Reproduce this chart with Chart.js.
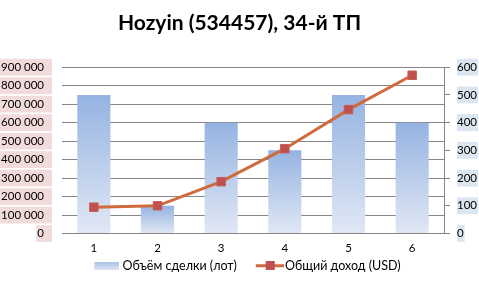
<!DOCTYPE html>
<html>
<head>
<meta charset="utf-8">
<script src="https://cdn.jsdelivr.net/npm/chart.js@4"></script>
<style>
body { margin: 0; background: #fff; }
</style>
</head>
<body>
<canvas id="chart" width="479" height="287"></canvas>
<script>
const categories = ['1', '2', '3', '4', '5', '6'];
const volumeLots = [750000, 150000, 600000, 450000, 750000, 600000];
const totalIncome = [95, 100, 187, 306, 447, 571];
const seriesNames = ['Объём сделки (лот)', 'Общий доход (USD)'];
const chartTitle = 'Hozyin (534457), 34-й ТП';

const tickFont = { family: 'Lato', size: 11.5 };
const legendFont = { family: 'Lato', size: 12.5 };

function spaced(v) {
    return String(v).replace(/\B(?=(\d{3})+(?!\d))/g, ' ');
}

// legend samples are drawn centred on the box, so the sample sits at the right of the image
function barSample() {
    const c = document.createElement('canvas');
    c.width = 44; c.height = 8;
    const g = c.getContext('2d');
    const gr = g.createLinearGradient(0, 0, 0, 8);
    gr.addColorStop(0, '#a9c0e6');
    gr.addColorStop(1, '#dbe4f4');
    g.fillStyle = gr;
    g.fillRect(19, 0, 25, 8);
    return c;
}

function lineSample() {
    const c = document.createElement('canvas');
    c.width = 48; c.height = 9;
    const g = c.getContext('2d');
    g.fillStyle = '#cf6b3c';
    g.fillRect(20, 3, 28, 3);
    g.fillStyle = '#c0504d';
    g.fillRect(30, 0, 9, 9);
    return c;
}

const legendImages = [barSample(), lineSample()];

new Chart(document.getElementById('chart'), {
    data: {
        labels: categories,
        datasets: [{
            type: 'bar',
            label: seriesNames[0],
            data: volumeLots,
            yAxisID: 'y',
            order: 1,
            barPercentage: 1,
            categoryPercentage: 0.52,
            backgroundColor: ctx => {
                const chart = ctx.chart;
                if (ctx.type !== 'data' || !chart.chartArea) return '#b9cbeb';
                const y = chart.scales.y;
                const top = y.getPixelForValue(ctx.raw);
                const bottom = y.getPixelForValue(0);
                const gr = chart.ctx.createLinearGradient(0, top, 0, bottom);
                gr.addColorStop(0, '#95b3e1');
                gr.addColorStop(1, '#e1e8f5');
                return gr;
            }
        }, {
            type: 'line',
            label: seriesNames[1],
            data: totalIncome,
            yAxisID: 'y1',
            order: 0,
            borderColor: '#cf6b3c',
            borderWidth: 3,
            pointStyle: 'rect',
            pointRadius: 6,
            pointBackgroundColor: '#c0504d',
            pointBorderColor: '#c65f5c',
            pointBorderWidth: 1,
            tension: 0
        }]
    },
    options: {
        responsive: false,
        devicePixelRatio: 1,
        animation: false,
        layout: { padding: { left: 0, right: 0, top: 0, bottom: 5 } },
        plugins: {
            title: {
                display: true,
                text: chartTitle,
                color: '#000',
                font: { family: 'Lato', size: 21, weight: 'bold' },
                padding: { top: 11, bottom: 31 }
            },
            legend: {
                position: 'bottom',
                labels: {
                    usePointStyle: true,
                    pointStyleWidth: 38,
                    color: '#000',
                    font: legendFont,
                    padding: 4,
                    sort: (a, b) => a.datasetIndex - b.datasetIndex,
                    generateLabels: chart => {
                        const items = Chart.defaults.plugins.legend.labels.generateLabels(chart);
                        items.forEach(it => { it.pointStyle = legendImages[it.datasetIndex]; });
                        return items;
                    }
                }
            },
            tooltip: { enabled: false }
        },
        scales: {
            x: {
                afterFit: s => { s.height = 22; },
                grid: { display: false, drawTicks: false },
                border: { display: true, color: '#868686' },
                ticks: { color: '#000', font: tickFont, padding: 8 }
            },
            y: {
                position: 'left',
                min: 0,
                max: 900000,
                afterFit: s => { s.width = 62; },
                grid: { color: '#868686', drawTicks: false },
                border: { display: false },
                ticks: {
                    stepSize: 100000,
                    color: '#000',
                    font: tickFont,
                    padding: 18,
                    callback: v => spaced(v),
                    showLabelBackdrop: true,
                    backdropColor: '#f2dcdb',
                    backdropPadding: { left: 1, right: 8, top: 1.5, bottom: 1.5 }
                }
            },
            y1: {
                position: 'right',
                min: 0,
                max: 600,
                afterFit: s => { s.width = 35; },
                grid: { drawOnChartArea: false, color: '#868686', tickLength: 6 },
                border: { display: true, color: '#868686' },
                ticks: {
                    stepSize: 100,
                    color: '#000',
                    font: tickFont,
                    padding: 7,
                    showLabelBackdrop: true,
                    backdropColor: '#dce6f2',
                    backdropPadding: { left: 0, right: 1, top: 1.5, bottom: 1.5 }
                }
            }
        }
    }
});
</script>
</body>
</html>
